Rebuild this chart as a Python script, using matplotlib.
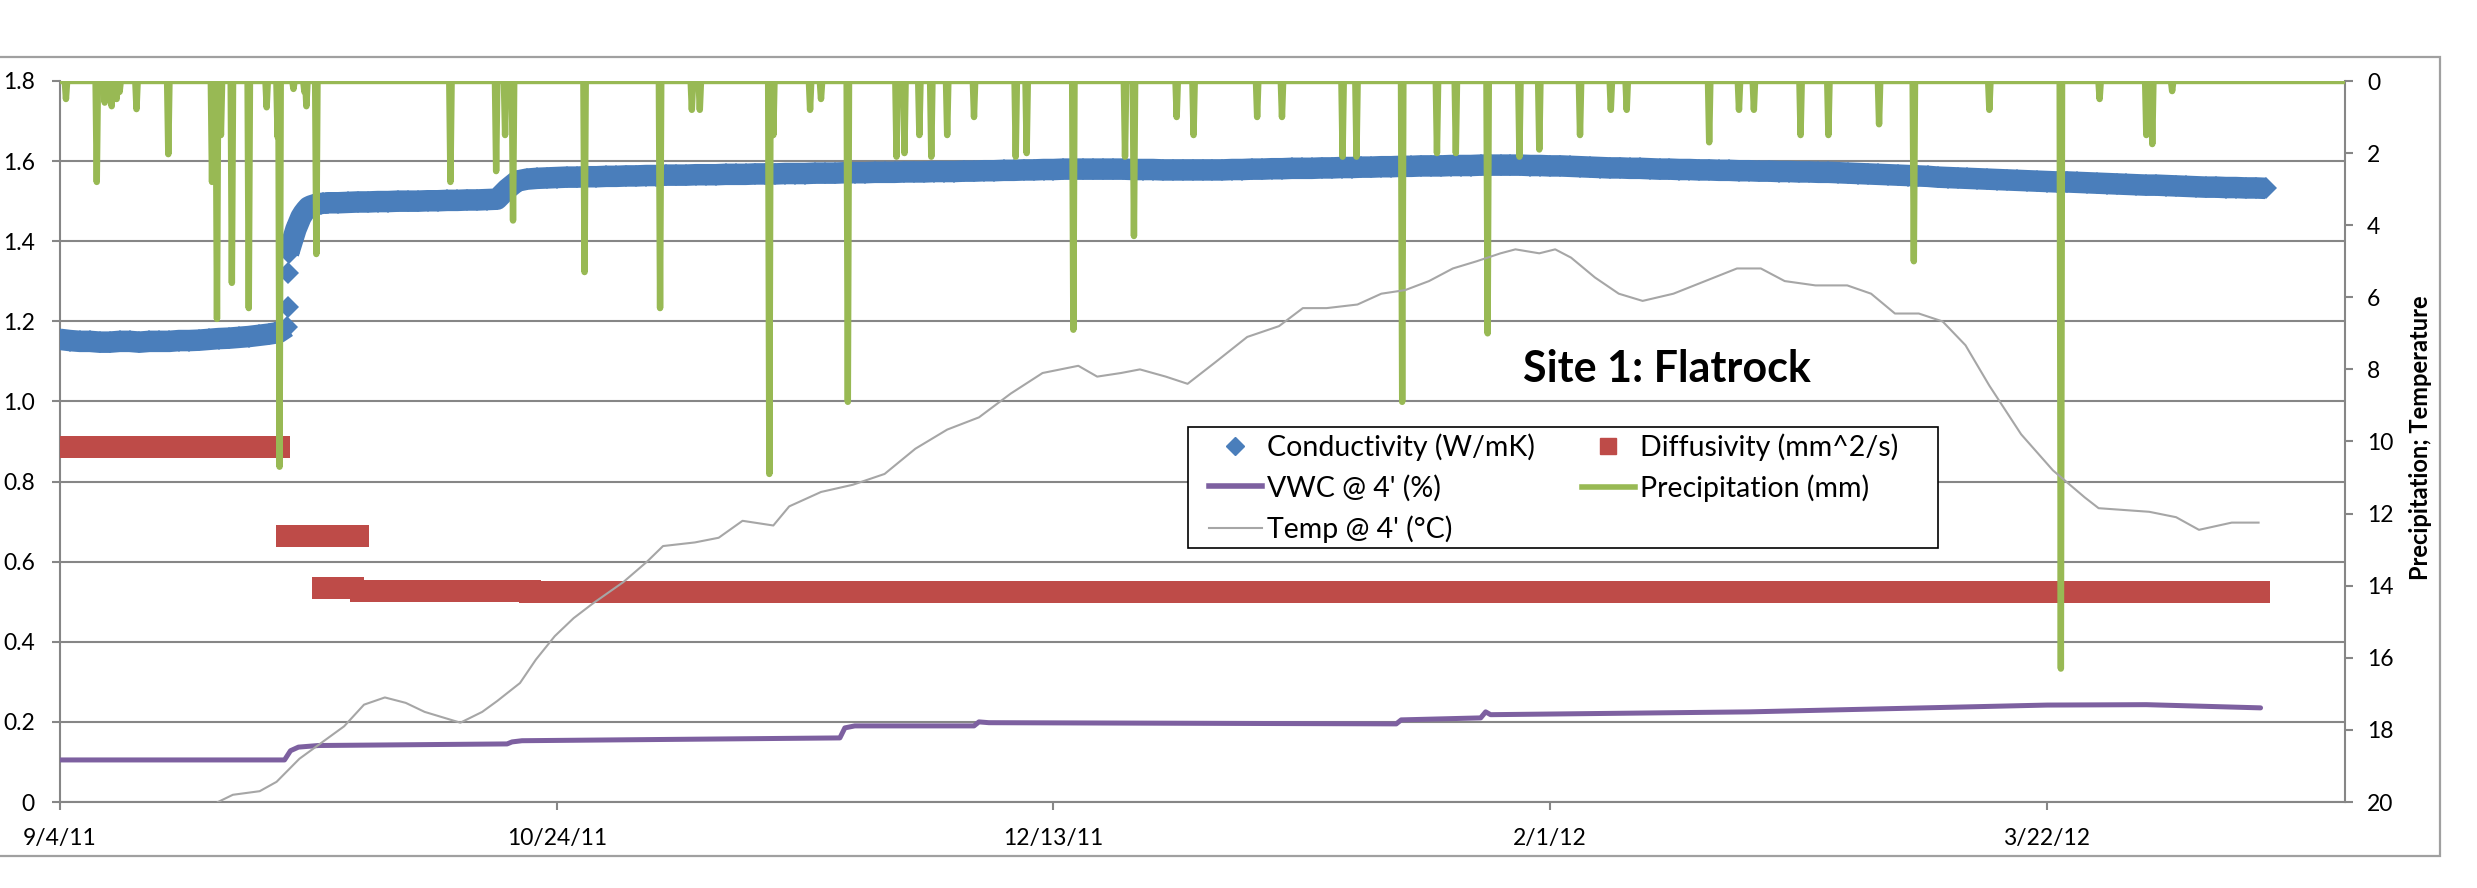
import numpy as np
import matplotlib
matplotlib.use("Agg")
import matplotlib.pyplot as plt
from matplotlib.lines import Line2D
from matplotlib.patches import Rectangle
from matplotlib.ticker import FixedLocator, FuncFormatter, MultipleLocator
import datetime as dt

# ---------------- data ----------------
START = dt.date(2011, 9, 4)          # day 0 of the record

# Thermal conductivity (W/mK), day offsets and readings
cond_day = (list(range(0, 23)) + [22.85, 22.9, 22.95] +
            list(np.arange(23.0, 27.01, 0.25)) + list(range(28, 223)))
cond_val = [1.155, 1.152, 1.150, 1.150, 1.148, 1.148, 1.150, 1.150, 1.148, 1.150,
            1.150, 1.150, 1.152, 1.152, 1.153, 1.155, 1.157, 1.158, 1.160, 1.162,
            1.165, 1.168, 1.172,
            1.186, 1.235, 1.320,
            1.370, 1.390, 1.410, 1.430, 1.445, 1.460, 1.470, 1.478, 1.485, 1.488,
            1.490, 1.492, 1.493, 1.494, 1.495, 1.495, 1.496,
            1.496, 1.497, 1.498, 1.498, 1.499, 1.499, 1.500, 1.500, 1.500, 1.501,
            1.501, 1.502, 1.502, 1.503, 1.503, 1.504, 1.505, 1.530,
            1.550, 1.555, 1.557, 1.558, 1.559, 1.560, 1.560, 1.561, 1.561, 1.562,
            1.562, 1.563, 1.563, 1.564, 1.564, 1.565, 1.565, 1.565, 1.566, 1.566,
            1.566, 1.567, 1.567, 1.567, 1.568, 1.568, 1.568, 1.569, 1.569, 1.569,
            1.570, 1.570, 1.570, 1.571, 1.571, 1.571, 1.572, 1.572, 1.572, 1.573,
            1.573, 1.573, 1.574, 1.574, 1.574, 1.575, 1.575, 1.576, 1.576, 1.577,
            1.577, 1.578, 1.578, 1.579, 1.579, 1.580, 1.580, 1.580, 1.580, 1.580,
            1.580, 1.580, 1.579, 1.579, 1.579, 1.578, 1.578, 1.578, 1.578, 1.578,
            1.578, 1.578, 1.579, 1.579, 1.580, 1.580, 1.581, 1.581, 1.582, 1.582,
            1.582, 1.583, 1.583, 1.584, 1.584, 1.585, 1.585, 1.586, 1.586, 1.587,
            1.587, 1.588, 1.588, 1.588, 1.589, 1.589, 1.589, 1.590, 1.590, 1.590,
            1.590, 1.590, 1.589, 1.589, 1.588, 1.588, 1.587, 1.586, 1.585, 1.584,
            1.583, 1.583, 1.582, 1.582, 1.581, 1.580, 1.580, 1.579, 1.579, 1.578,
            1.578, 1.577, 1.577, 1.576, 1.576, 1.575, 1.575, 1.574, 1.574, 1.573,
            1.573, 1.572, 1.572, 1.571, 1.570, 1.569, 1.568, 1.567, 1.566, 1.565,
            1.564, 1.563, 1.562, 1.560, 1.559, 1.558, 1.557, 1.556, 1.555, 1.554,
            1.553, 1.552, 1.551, 1.550, 1.549, 1.548, 1.548, 1.547, 1.546, 1.545,
            1.544, 1.543, 1.542, 1.541, 1.540, 1.540, 1.539, 1.538, 1.537, 1.536,
            1.535, 1.535, 1.534, 1.534, 1.533, 1.533, 1.532]

# Thermal diffusivity (mm^2/s): runs of (first day, last day, level)
diff_runs = [(0, 22.8, 0.886),
             (22.8, 26.0, 0.664),
             (26.5, 29.8, 0.534),
             (27.0, 30.3, 0.664),
             (30.3, 47.3, 0.528),
             (47.3, 222.0, 0.525)]

# Volumetric water content at 4 ft (fraction)
vwc_day = [0, 22.6, 23.2, 24.0, 26.0, 45.0, 45.5, 46.5, 78.5, 79.0, 80.0, 92.0,
           92.5, 93.5, 134.5, 135.0, 143.0, 143.5, 144.0, 170.0, 200.0, 210.0, 221.5]
vwc_val = [0.105, 0.105, 0.128, 0.137, 0.141, 0.145, 0.150, 0.153, 0.160, 0.185,
           0.190, 0.190, 0.200, 0.198, 0.195, 0.205, 0.210, 0.225, 0.218, 0.225,
           0.242, 0.243, 0.235]

# Soil temperature at 4 ft (deg C)
temp_day = [15.9, 17.4, 20.1, 21.8, 24.1, 27.1, 28.6, 30.6, 32.7, 34.8, 36.7, 40.3,
            42.5, 44.0, 46.3, 47.9, 49.8, 51.7, 53.6, 56.7, 59.1, 60.7, 63.9, 66.3,
            68.7, 71.8, 73.4, 76.6, 79.8, 83.0, 86.1, 89.3, 92.5, 95.7, 98.9, 102.5,
            104.4, 106.8, 108.7, 111.3, 113.5, 116.3, 119.5, 122.7, 125.1, 127.5,
            130.6, 133.0, 135.4, 137.8, 140.2, 142.6, 145.0, 146.5, 148.9, 150.5,
            152.1, 154.5, 156.9, 159.3, 162.4, 165.6, 168.8, 171.2, 173.6, 176.7,
            179.9, 182.3, 184.7, 187.1, 189.5, 191.8, 194.2, 197.4, 200.6, 203.8,
            205.2, 210.3, 213.0, 215.3, 218.6, 221.3]
temp_val = [20.0, 19.8, 19.7, 19.44, 18.8, 18.2, 17.9, 17.3, 17.1, 17.25, 17.5, 17.8,
            17.5, 17.2, 16.7, 16.05, 15.4, 14.9, 14.5, 13.9, 13.33, 12.9, 12.8, 12.67,
            12.2, 12.33, 11.8, 11.4, 11.2, 10.9, 10.2, 9.67, 9.33, 8.67, 8.1, 7.9,
            8.2, 8.1, 8.0, 8.2, 8.4, 7.8, 7.1, 6.8, 6.3, 6.3,
            6.2, 5.9, 5.8, 5.55, 5.2, 5.0, 4.78, 4.67, 4.78, 4.67,
            4.9, 5.45, 5.9, 6.1, 5.9, 5.55, 5.2, 5.2, 5.55, 5.67,
            5.67, 5.9, 6.45, 6.45, 6.67, 7.33, 8.45, 9.8, 10.8, 11.55,
            11.85, 11.95, 12.1, 12.45, 12.25, 12.25]

# Precipitation events (day offset, mm)
rain_day = [0.6, 3.7, 4.5, 5.2, 5.7, 6.0, 7.7, 10.9, 15.3, 15.8, 16.2, 17.3, 19.0,
            20.8, 21.9, 22.1, 23.5, 24.6, 24.8, 25.8, 39.3, 43.9, 44.8, 45.6, 52.8,
            60.4, 63.6, 64.4, 71.4, 71.8, 75.5, 76.6, 79.3, 84.2, 85.0, 86.5, 87.7,
            89.3, 92.0, 96.2, 97.3, 102.0, 107.2, 108.1, 112.4, 114.1, 120.5, 123.0,
            129.1, 130.5, 135.1, 138.6, 140.5, 143.7, 146.9, 148.9, 153.0, 156.1,
            157.7, 166.0, 169.0, 170.5, 175.2, 178.0, 183.1, 186.6, 194.2, 201.4,
            205.3, 210.0, 210.6, 212.6]
rain_mm = [0.5, 2.8, 0.6, 0.7, 0.5, 0.3, 0.78, 2.03, 2.8, 6.6, 1.5, 5.6, 6.3,
           0.73, 1.55, 10.7, 0.22, 0.3, 0.7, 4.8, 2.8, 2.5, 1.5, 3.87, 5.3,
           6.3, 0.8, 0.8, 10.9, 1.5, 0.8, 0.5, 8.9, 2.1, 2.0, 1.5, 2.1,
           1.5, 1.0, 2.1, 2.0, 6.9, 2.1, 4.3, 1.0, 1.5, 1.0, 1.0,
           2.1, 2.1, 8.9, 2.0, 2.0, 7.0, 2.1, 1.9, 1.5, 0.8,
           0.8, 1.7, 0.8, 0.8, 1.5, 1.5, 1.2, 5.0, 0.8, 16.3,
           0.5, 1.5, 1.75, 0.28]
rain_end = 230.0

x_ticks = [0, 50, 100, 150, 200]

# ---------------- styling ----------------
C_BLUE = "#4a7ebb"
C_RED = "#be4b48"
C_PURPLE = "#7d60a0"
C_GREEN = "#98b954"
C_GRAY = "#a6a6a6"
AX_GRAY = "#868686"
FONT = ["Lato", "DejaVu Sans"]

plt.rcParams["font.family"] = FONT

W, H = 2477, 888
fig = plt.figure(figsize=(W / 100, H / 100), dpi=100)
fig.patch.set_facecolor("white")


def px_box(x0, y0, x1, y1):
    """Pixel box (top-left origin) -> figure-fraction rectangle args."""
    return (x0 / W, 1 - y1 / H), (x1 - x0) / W, (y1 - y0) / H


# chart-area border (its left edge lies outside the canvas)
xy, w, h = px_box(-20, 57, 2440, 856)
fig.patches.append(Rectangle(xy, w, h, transform=fig.transFigure, fill=False,
                             edgecolor="#a0a0a0", linewidth=1.6, zorder=1))

L, R, T, B = 60, 2345, 81, 802
ax = fig.add_axes([L / W, 1 - B / H, (R - L) / W, (B - T) / H])
ax.set_xlim(0, 230)
ax.set_ylim(0, 1.8)
ax.yaxis.set_major_locator(MultipleLocator(0.2))
ax.xaxis.set_major_locator(FixedLocator(x_ticks))


def date_label(v, pos):
    d = START + dt.timedelta(days=int(round(v)))
    return f"{d.month}/{d.day}/{d.year % 100:02d}"


ax.xaxis.set_major_formatter(FuncFormatter(date_label))
ax.yaxis.set_major_formatter(FuncFormatter(lambda v, p: "0" if abs(v) < 1e-9 else f"{v:.1f}"))
ax.grid(axis="y", color=AX_GRAY, linewidth=1.5)
ax.set_axisbelow(True)
for s in ("top", "right"):
    ax.spines[s].set_visible(False)
for s in ("left", "bottom"):
    ax.spines[s].set_color(AX_GRAY)
    ax.spines[s].set_linewidth(1.5)
ax.tick_params(axis="both", direction="out", length=6, width=1.5, color=AX_GRAY,
               labelsize=16.5, labelcolor="black")
ax.tick_params(axis="y", pad=12)
ax.tick_params(axis="x", pad=13)

# primary-axis series
diff_x, diff_y = [], []
for a, b, v in diff_runs:
    xs = np.arange(a, b + 1e-6, 1.0)
    diff_x.extend(xs)
    diff_y.extend([v] * len(xs))
ax.plot(diff_x, diff_y, linestyle="none", marker="s", markersize=15.5,
        color=C_RED, markeredgewidth=0, zorder=3)

# conductivity: dense readings render as a continuous band; break it at the jump
cd = np.asarray(cond_day, dtype=float)
cv = np.asarray(cond_val, dtype=float)
breaks = np.where(np.abs(np.diff(cv)) > 0.03)[0] + 1
for seg_d, seg_v in zip(np.split(cd, breaks), np.split(cv, breaks)):
    if len(seg_d) > 1:
        ax.plot(seg_d, seg_v, color=C_BLUE, linewidth=15.5, solid_capstyle="butt",
                zorder=3)
ax.plot(cd, cv, linestyle="none", marker="D", markersize=11,
        color=C_BLUE, markeredgewidth=0, zorder=3)
ax.plot(vwc_day, vwc_val, color=C_PURPLE, linewidth=3.6, solid_capstyle="round", zorder=4)

# secondary axis (inverted)
ax2 = ax.twinx()
ax2.set_ylim(20, 0)
ax2.yaxis.set_major_locator(MultipleLocator(2))
ax2.spines["right"].set_color(AX_GRAY)
ax2.spines["right"].set_linewidth(1.5)
for s in ("top", "left", "bottom"):
    ax2.spines[s].set_visible(False)
ax2.tick_params(axis="y", direction="out", length=6, width=1.5, color=AX_GRAY,
                labelsize=16.5, pad=10)

# precipitation spikes built from the event list
px, py = [0.0], [0.0]
for d, v in zip(rain_day, rain_mm):
    px += [d - 0.12, d, d + 0.12]
    py += [0.0, v, 0.0]
px.append(rain_end)
py.append(0.0)
ax2.plot(px, py, color=C_GREEN, linewidth=4.6, solid_joinstyle="round",
         solid_capstyle="round", zorder=5)
ax2.plot(temp_day, temp_val, color=C_GRAY, linewidth=1.5, zorder=6)

# title and right axis label
fig.text(1523 / W, 1 - 369 / H, "Site 1: Flatrock", fontsize=31, fontweight="bold",
         ha="left", va="center")
fig.text(2421 / W, 1 - 438 / H, "Precipitation; Temperature", fontsize=17,
         fontweight="bold", rotation=90, ha="center", va="center")

# legend: white box with black frame, entries laid out in two columns
xy, w, h = px_box(1188, 427, 1938, 548)
fig.patches.append(Rectangle(xy, w, h, transform=fig.transFigure, facecolor="white",
                             edgecolor="black", linewidth=1.2, zorder=5))
handles = [
    Line2D([], [], linestyle="none", marker="D", markersize=9, color=C_BLUE),
    Line2D([], [], color=C_PURPLE, linewidth=4),
    Line2D([], [], color=C_GRAY, linewidth=1.5),
    Line2D([], [], linestyle="none", marker="s", markersize=11, color=C_RED),
    Line2D([], [], color=C_GREEN, linewidth=4),
]
labels = ["Conductivity (W/mK)", "VWC @ 4' (%)", "Temp @ 4' (°C)",
          "Diffusivity (mm^2/s)", "Precipitation (mm)"]
leg = fig.legend(handles, labels, ncol=2, loc="upper left",
                 bbox_to_anchor=(1209 / W, 1 - 433 / H), bbox_transform=fig.transFigure,
                 fontsize=20.5, frameon=False, borderpad=0, labelspacing=0.49,
                 handlelength=1.86, handletextpad=0.18, columnspacing=1.65,
                 borderaxespad=0)
leg.set_zorder(6)

fig.savefig("out.png", dpi=100, facecolor="white")
